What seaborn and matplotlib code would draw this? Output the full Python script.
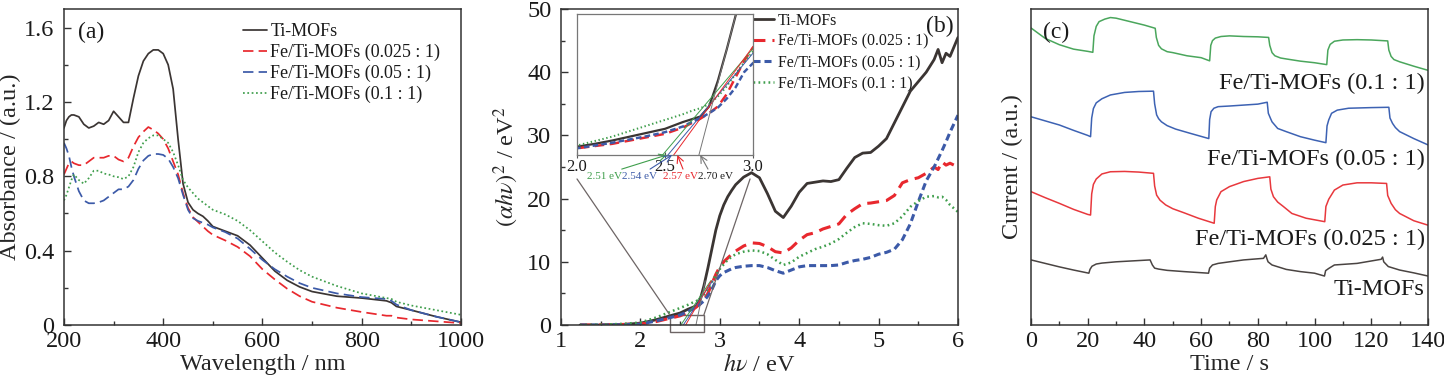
import matplotlib
matplotlib.use('Agg')
import matplotlib.pyplot as plt
from matplotlib.patches import Rectangle, ConnectionPatch
from matplotlib.ticker import MultipleLocator
import pandas as pd
import seaborn as sns

# (a) absorbance spectra
wl = [200, 205, 210, 215, 220, 230, 240, 250, 260, 270, 280, 290, 300, 310, 320, 330, 340, 350, 360, 370,
      380, 390, 400, 410, 420, 430, 440, 450, 460, 470, 480, 490, 500, 525, 550, 575, 600, 625, 650, 675,
      700, 750, 800, 850, 860, 870, 900, 950, 1000]
abs_ti = [1.06, 1.10, 1.12, 1.13, 1.13, 1.12, 1.08, 1.06, 1.07, 1.09, 1.08, 1.10, 1.15, 1.12, 1.09, 1.09, 1.22, 1.34, 1.42, 1.46,
          1.48, 1.48, 1.46, 1.40, 1.27, 1.00, 0.76, 0.66, 0.62, 0.60, 0.585, 0.56, 0.53, 0.505, 0.48, 0.43, 0.36, 0.29, 0.24, 0.205,
          0.18, 0.155, 0.145, 0.13, 0.12, 0.10, 0.08, 0.045, 0.015]
abs_fe025 = [0.81, 0.84, 0.87, 0.88, 0.87, 0.86, 0.86, 0.88, 0.90, 0.90, 0.90, 0.91, 0.91, 0.89, 0.88, 0.90, 0.96, 1.01, 1.04, 1.065,
             1.05, 1.03, 1.00, 0.95, 0.88, 0.81, 0.71, 0.63, 0.58, 0.555, 0.53, 0.505, 0.485, 0.455, 0.42, 0.37, 0.30, 0.245, 0.195, 0.155,
             0.125, 0.093, 0.07, 0.05, 0.05, 0.04, 0.03, 0.02, 0.01]
abs_fe05 = [0.98, 0.95, 0.91, 0.85, 0.80, 0.72, 0.67, 0.655, 0.655, 0.66, 0.67, 0.69, 0.71, 0.73, 0.73, 0.745, 0.78, 0.84, 0.885, 0.91,
            0.92, 0.92, 0.915, 0.895, 0.85, 0.79, 0.70, 0.62, 0.575, 0.56, 0.55, 0.54, 0.525, 0.50, 0.465, 0.41, 0.35, 0.30, 0.26, 0.225,
            0.20, 0.17, 0.15, 0.14, 0.13, 0.11, 0.08, 0.045, 0.015]
abs_fe1 = [0.67, 0.70, 0.74, 0.78, 0.81, 0.78, 0.76, 0.79, 0.83, 0.83, 0.815, 0.81, 0.80, 0.795, 0.785, 0.80, 0.85, 0.93, 0.98, 1.005,
           1.02, 1.02, 1.00, 0.98, 0.93, 0.86, 0.78, 0.74, 0.71, 0.68, 0.66, 0.64, 0.62, 0.595, 0.56, 0.51, 0.45, 0.39, 0.34, 0.295,
           0.26, 0.21, 0.17, 0.145, 0.14, 0.125, 0.105, 0.08, 0.055]

# (b) Tauc plot
ev = [1.24, 1.5, 1.8, 2.0, 2.1, 2.2, 2.3, 2.4, 2.5, 2.6, 2.65, 2.7, 2.75, 2.8, 2.85, 2.9, 2.95, 3.0, 3.05, 3.1,
      3.15, 3.2, 3.3, 3.4, 3.5, 3.6, 3.7, 3.8, 3.9, 4.0, 4.1, 4.2, 4.3, 4.4, 4.5, 4.6, 4.7, 4.8, 4.9, 5.0,
      5.1, 5.2, 5.3, 5.4, 5.5, 5.6, 5.7, 5.75, 5.8, 5.85, 5.9, 6.0]
tauc_ti = [0, 0, 0.1, 0.3, 0.55, 0.85, 1.2, 1.55, 1.9, 2.5, 2.75, 3.0, 3.9, 6.2, 9.0, 12.0, 15.0, 17.3, 19.0, 20.3,
           21.3, 22.2, 23.4, 24.1, 23.3, 20.8, 18.0, 17.0, 18.8, 21.0, 22.4, 22.6, 22.8, 22.7, 23.0, 24.8, 26.5, 27.2, 27.3, 28.3,
           29.5, 32.0, 34.5, 37.0, 38.5, 40.0, 42.0, 43.6, 41.5, 43.0, 42.5, 45.5]
tauc_fe025 = [0, 0, 0.1, 0.15, 0.35, 0.55, 0.85, 1.15, 1.45, 2.0, 2.4, 2.8, 3.3, 3.9, 5.0, 6.5, 8.0, 9.2, 10.0, 10.6,
              11.2, 11.7, 12.5, 13.0, 12.9, 12.4, 11.6, 11.4, 12.2, 13.4, 14.3, 14.6, 15.2, 15.6, 16.0, 17.5, 18.4, 19.2, 19.3, 19.5,
              19.7, 20.5, 22.5, 23.0, 23.3, 24.0, 25.0, 24.6, 25.8, 25.3, 25.6, 25.0]
tauc_fe05 = [0, 0, 0.05, 0.15, 0.4, 0.65, 0.95, 1.25, 1.6, 2.1, 2.5, 2.85, 3.3, 3.8, 4.6, 5.6, 7.0, 7.8, 8.3, 8.6,
             8.9, 9.1, 9.3, 9.4, 9.4, 9.1, 8.6, 8.2, 8.7, 9.2, 9.4, 9.4, 9.4, 9.4, 9.5, 9.9, 10.2, 10.4, 10.7, 11.2,
             11.5, 12.0, 13.5, 16.0, 19.5, 22.8, 25.0, 26.3, 27.6, 29.0, 30.5, 33.2]
tauc_fe1 = [0, 0.05, 0.2, 0.4, 0.8, 1.2, 1.7, 2.2, 2.7, 3.2, 3.5, 3.75, 4.1, 4.8, 5.7, 6.8, 7.9, 8.85, 9.6, 10.3,
            10.8, 11.2, 11.6, 11.8, 11.7, 11.2, 10.3, 9.5, 9.9, 10.8, 11.4, 12.0, 12.4, 12.9, 13.6, 14.6, 15.5, 16.1, 16.0, 15.8,
            15.7, 16.1, 17.2, 18.7, 19.6, 20.3, 20.4, 20.2, 20.3, 19.8, 19.0, 17.9]
# band gaps (x intercepts) and slopes of the tangent lines
gap_ev = [2.51, 2.54, 2.57, 2.70]
gap_slope = [18.6, 18.9, 21.6, 60.0]
gap_text = ['2.51 eV', '2.54 eV', '2.57 eV', '2.70 eV']

# (c) photocurrent (arbitrary offsets)
t_fe1 = [0, 5, 10, 15, 20, 21.8, 22.2, 23, 24, 26, 28, 30, 35, 40, 43.8, 44.2, 45, 46, 48, 50, 55, 60,
         63.0, 63.4, 64, 65, 67, 70, 75, 80, 83.8, 84.2, 85, 86, 88, 90, 95, 100, 104.3, 104.7, 105.5, 107, 110,
         115, 120, 125.8, 126.2, 127, 128, 130, 135, 140]
i_fe1 = [94.0, 90.7, 88.7, 87.3, 86.6, 86.3, 91.5, 94.5, 96.0, 96.8, 97.3, 97.1, 96.0, 94.9, 93.9, 91.0, 88.5, 87.4, 86.5, 86.2, 85.2, 84.6,
         83.6, 88.5, 90.0, 90.8, 91.3, 91.5, 91.3, 91.2, 91.0, 88.5, 86.2, 85.2, 84.5, 84.2, 83.5, 83.0, 82.4, 87.0, 88.8, 89.8, 90.2,
         90.3, 90.2, 89.9, 87.0, 85.0, 84.0, 83.3, 81.9, 80.6]
t_fe05 = [0, 5, 10, 15, 20, 21.0, 21.4, 22, 23, 25, 28, 33, 38, 43.2, 43.6, 44.3, 45, 46, 48, 51, 56, 62.7, 63.0,
          63.5, 64.5, 66, 70, 75, 80, 83.3, 83.7, 84.5, 85, 87, 90, 95, 100, 104.0, 104.4, 105, 106, 108, 112, 120,
          126.2, 126.6, 127.5, 128.5, 130, 135, 140]
i_fe05 = [65.9, 64.6, 63.3, 61.6, 60.0, 59.6, 65.5, 68.5, 70.3, 71.6, 72.8, 73.6, 73.9, 74.0, 70.0, 66.5, 65.3, 64.3, 63.1, 62.0, 60.7, 59.0, 65.0,
          67.5, 68.6, 69.1, 69.3, 69.6, 69.9, 70.5, 67.0, 65.3, 64.3, 62.2, 61.2, 59.6, 58.5, 57.7, 63.0, 64.9, 67.0, 68.0, 68.6, 68.8,
          68.9, 65.5, 63.8, 62.5, 61.2, 59.0, 57.0]
t_fe025 = [0, 5, 10, 15, 20, 21.0, 21.4, 22, 23, 25, 28, 33, 38, 43.2, 43.6, 44.3, 45.5, 47.5, 50, 54, 59, 64.6, 65.0,
           65.5, 67, 70, 75, 80, 84.2, 84.6, 85.5, 87, 89, 92, 97, 103.6, 104.0, 105, 107, 110, 115, 120, 125.4,
           125.8, 127, 128.5, 130, 135, 140]
i_fe025 = [42.2, 40.3, 38.5, 36.6, 35.0, 34.8, 41.5, 44.5, 46.2, 47.8, 48.5, 48.6, 48.4, 48.0, 44.0, 41.1, 39.5, 38.0, 36.8, 35.5, 33.8, 32.2, 37.5,
           39.6, 42.2, 43.8, 45.4, 46.4, 46.9, 43.0, 40.6, 38.9, 37.5, 35.3, 33.8, 32.7, 37.5, 39.8, 42.7, 44.3, 45.0, 45.0, 44.8,
           41.0, 38.5, 36.5, 35.3, 33.0, 31.6]
t_ti = [0, 5, 10, 15, 20.4, 20.8, 21.5, 23, 25, 30, 36, 42, 42.8, 43.6, 45, 48, 54, 62.6, 63.0, 64, 66, 70,
        75, 82, 82.8, 83.2, 83.6, 85, 90, 95, 100, 103.5, 103.9, 105, 107, 115, 123.5, 124.0, 124.4, 126, 130, 135, 140]
i_ti = [20.6, 19.5, 18.4, 17.4, 16.4, 17.6, 18.6, 19.3, 19.6, 20.0, 20.3, 20.6, 19.0, 18.0, 17.7, 17.3, 16.9, 16.4, 18.0, 19.0, 19.5, 20.0,
        20.6, 21.1, 22.2, 21.0, 20.0, 19.0, 17.6, 16.9, 16.4, 15.5, 17.2, 17.9, 19.0, 19.5, 20.8, 21.5, 20.0, 18.5, 17.4, 16.5, 15.5]

names = ['Ti-MOFs', 'Fe/Ti-MOFs (0.025 : 1)', 'Fe/Ti-MOFs (0.05 : 1)', 'Fe/Ti-MOFs (0.1 : 1)']
colors = ['#3b3533', '#e8282e', '#3c5aa8', '#3f9e4c']

sns.set_theme(style='ticks')
plt.rcParams['font.family'] = ['Liberation Serif', 'DejaVu Serif']
plt.rcParams['mathtext.fontset'] = 'stix'
plt.rcParams['axes.edgecolor'] = '#333333'
plt.rcParams['axes.linewidth'] = 1.1
plt.rcParams['text.color'] = '#1a1a1a'


def style_axis(ax, xpad=4, ypad=7):
    ax.tick_params(which='both', direction='in', top=False, right=False, colors='#333333',
                   labelsize=17.5, labelcolor='#1a1a1a')
    ax.tick_params(axis='x', pad=xpad)
    ax.tick_params(axis='y', pad=ypad)
    ax.tick_params(which='major', length=5, width=1)
    ax.tick_params(which='minor', length=3, width=1)


fig = plt.figure(figsize=(14.44, 3.85), dpi=100)

# ---------- (a) ----------
ax_a = fig.add_axes([0.0443, 0.1558, 0.2749, 0.8208])
df_a = pd.DataFrame({'wl': wl, names[0]: abs_ti, names[1]: abs_fe025, names[2]: abs_fe05, names[3]: abs_fe1})
ls_a = ['-', (0, (6, 3)), (0, (6, 3)), (0, (1, 1.5))]
for name, c, ls in zip(names, colors, ls_a):
    sns.lineplot(data=df_a, x='wl', y=name, ax=ax_a, color=c, linestyle=ls, lw=1.25,
                 label=name, estimator=None, sort=False)
ax_a.set_xlim(200, 1000)
ax_a.set_ylim(0, 1.7)
ax_a.xaxis.set_major_locator(MultipleLocator(200))
ax_a.xaxis.set_minor_locator(MultipleLocator(100))
ax_a.yaxis.set_minor_locator(MultipleLocator(0.2))
ax_a.set_yticks([0, 0.4, 0.8, 1.2, 1.6], ['0', '0.4', '0.8', '1.2', '1.6'])
style_axis(ax_a)
ax_a.set_xlabel('Wavelength / nm', fontsize=17.5, labelpad=2)
ax_a.set_ylabel('Absorbance / (a.u.)', fontsize=17.5, labelpad=2)
ax_a.legend(loc='upper left', bbox_to_anchor=(0.452, 0.955), frameon=False, fontsize=13,
            handlelength=1.3, handletextpad=0.2, labelspacing=0.2, borderpad=0, borderaxespad=0)
ax_a.text(0.035, 0.925, '(a)', transform=ax_a.transAxes, fontsize=17, va='center')

# ---------- (b) ----------
ax_b = fig.add_axes([0.3885, 0.1558, 0.2749, 0.8208])
df_b = pd.DataFrame({'ev': ev, names[0]: tauc_ti, names[1]: tauc_fe025, names[2]: tauc_fe05, names[3]: tauc_fe1})
ls_b = ['-', (0, (3.9, 2.3)), (0, (2.3, 1.3)), (0, (0.7, 1.3))]
lw_b = [2.0, 2.2, 2.2, 1.8]
for name, c, ls, lw in zip(names, colors, ls_b, lw_b):
    sns.lineplot(data=df_b, x='ev', y=name, ax=ax_b, color=c, linestyle=ls, lw=lw,
                 label=name, estimator=None, sort=False)
ax_b.set_xlim(1, 6)
ax_b.set_ylim(0, 50)
ax_b.xaxis.set_major_locator(MultipleLocator(1))
ax_b.xaxis.set_minor_locator(MultipleLocator(0.5))
ax_b.yaxis.set_major_locator(MultipleLocator(10))
ax_b.yaxis.set_minor_locator(MultipleLocator(5))
style_axis(ax_b)
ax_b.set_xlabel(r'$h\nu$ / eV', fontsize=17.5, labelpad=2)
ax_b.set_ylabel(r'$(\alpha h\nu)^2$ / eV$^2$', fontsize=17.5, labelpad=4)
ax_b.legend(loc='upper left', bbox_to_anchor=(0.484, 0.988), frameon=False, fontsize=11.4,
            handlelength=1.35, handletextpad=0.2, labelspacing=0.32, borderpad=0, borderaxespad=0)
ax_b.text(0.955, 0.945, '(b)', transform=ax_b.transAxes, fontsize=17, ha='center', va='center')

tan_colors = [colors[3], colors[2], colors[1], '#777777']
# tangent lines near the absorption edge
for e0, k, c in zip(gap_ev, gap_slope, tan_colors):
    ax_b.plot([e0 - 0.5 / k, e0 + 7.0 / k], [-0.5, 7.0], color=c, lw=0.7)

box = Rectangle((2.37, -1.1), 0.43, 2.7, fill=False, edgecolor='#6d6565', lw=1.0, clip_on=False)
ax_b.add_patch(box)

# inset
ax_in = fig.add_axes([0.3996, 0.5974, 0.1219, 0.3662])
for name, c, ls, lw in zip(names, colors, ls_b, lw_b):
    sns.lineplot(data=df_b, x='ev', y=name, ax=ax_in, color=c, linestyle=ls, lw=lw * 0.8,
                 legend=False, estimator=None, sort=False)
for e0, k, c in zip(gap_ev, gap_slope, tan_colors):
    ax_in.plot([e0 - 1.0 / k, e0 + 12.5 / k], [-1.0, 12.5], color=c, lw=0.7)
ax_in.set_xlim(2.0, 3.0)
ax_in.set_ylim(-0.45, 12.2)
ax_in.set_xticks([2.0, 2.5, 3.0], ['2.0', '2.5', '3.0'])
ax_in.set_yticks([])
ax_in.set_xlabel('')
ax_in.set_ylabel('')
ax_in.tick_params(axis='x', direction='inout', length=5, width=0.8, pad=0.5, labelsize=12,
                  colors='#555555', labelcolor='#1a1a1a')
for sp in ax_in.spines.values():
    sp.set_color('#777777')
    sp.set_linewidth(0.9)
text_x = [0.057, 0.256, 0.489, 0.688]
tail_x = [0.254, 0.415, 0.602, 0.744]
text_colors = [colors[3], colors[2], colors[1], '#1a1a1a']
for e0, lab, tx, ax_x, c, ac in zip(gap_ev, gap_text, text_x, tail_x, text_colors, tan_colors):
    ax_in.text(tx, -0.155, lab, transform=ax_in.transAxes, fontsize=8, color=c, ha='left', va='center')
    ax_in.annotate('', xy=(e0, -0.45), xycoords='data', xytext=(ax_x, -0.1), textcoords='axes fraction',
                   arrowprops=dict(arrowstyle='->', color=ac, lw=0.8, shrinkA=0, shrinkB=0),
                   annotation_clip=False)

for xa, xb in [(0.0, 2.37), (0.983, 2.80)]:
    con = ConnectionPatch(xyA=(xa, -0.17), coordsA=ax_in.transAxes, xyB=(xb, 1.6), coordsB=ax_b.transData,
                          color='#6d6565', lw=0.9)
    fig.add_artist(con)

# ---------- (c) ----------
ax_c = fig.add_axes([0.714, 0.1558, 0.2749, 0.8208])
series_c = [(t_ti, i_ti), (t_fe025, i_fe025), (t_fe05, i_fe05), (t_fe1, i_fe1)]
colors_c = ['#4a4442', '#e8383d', '#3d62b3', '#4aa65c']
for (tt, ii), c in zip(series_c, colors_c):
    sns.lineplot(x=tt, y=ii, ax=ax_c, color=c, lw=1.1, estimator=None, sort=False)
ax_c.set_xlim(0, 140)
ax_c.set_ylim(0, 100)
ax_c.xaxis.set_major_locator(MultipleLocator(20))
ax_c.xaxis.set_minor_locator(MultipleLocator(10))
ax_c.set_yticks([])
style_axis(ax_c)
ax_c.set_xlabel('Time / s', fontsize=17.5, labelpad=2)
ax_c.set_ylabel('Current / (a.u.)', fontsize=17.5, labelpad=6)
label_y = [11.1, 27.1, 52.4, 76.5]
for name, y in zip(names, label_y):
    ax_c.text(0.992, y, name, transform=ax_c.get_yaxis_transform(), fontsize=17.5,
              ha='right', va='center')
ax_c.text(0.03, 0.925, '(c)', transform=ax_c.transAxes, fontsize=17, va='center')

fig.savefig('out.png', dpi=100)
